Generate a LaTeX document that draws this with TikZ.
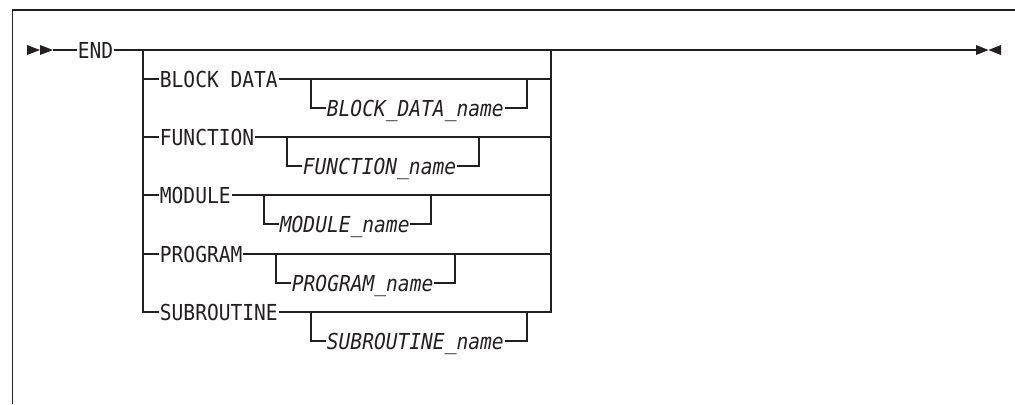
\documentclass[tikz,border=0pt]{standalone}
\usepackage{fontspec}
\setmainfont{DejaVu Sans Mono}[FakeStretch=0.89]
\definecolor{ink}{RGB}{35,31,32}
\begin{document}
\begin{tikzpicture}[x=1bp,y=-1bp,line width=1.2bp,draw=ink,
  kw/.style={font=\fontsize{22bp}{24bp}\selectfont,inner xsep=0.3bp,inner ysep=0pt,
    text height=17bp,text depth=1bp,anchor=west,text=ink},
  nm/.style={kw,font=\fontsize{22bp}{24bp}\selectfont\itshape},
  tipfill/.style={fill=ink,draw=none}]
\useasboundingbox (0,0) rectangle (1015,404);
% frame
\draw (12.5,404) -- (12.5,10) -- (1015,10);
% start and end marks
\fill[tipfill] (27,45) -- (40,50) -- (27,55) -- cycle;
\fill[tipfill] (40,45) -- (53,50) -- (40,55) -- cycle;
\fill[tipfill] (976,45) -- (988.5,50) -- (976,55) -- cycle;
\fill[tipfill] (1001,45) -- (988.5,50) -- (1001,55) -- cycle;
\coordinate (start) at (53,50);
\coordinate (fin) at (976,50);
\coordinate (L) at (143,50);
\coordinate (R) at (551,50);
\node[kw] (end) at (77,50) {END};
\draw (start) -- (end);
\draw (end) -- (fin);
% alternatives
\foreach \y/\lab/\xa/\xb/\nam [count=\i] in {
  79/BLOCK DATA/311/527/BLOCK\_DATA\_name,
  137/FUNCTION/287/479/FUNCTION\_name,
  195/MODULE/264/431/MODULE\_name,
  254/PROGRAM/276/455/PROGRAM\_name,
  312/SUBROUTINE/311/527/SUBROUTINE\_name}{
  \node[kw] (k\i) at (159,\y) {\lab};
  \node[nm] (n\i) at (\xa+15,\y+29) {\nam};
  \coordinate (a\i) at (\xa,\y);
  \coordinate (b\i) at (\xb,\y);
  \draw (143,\y) -- (k\i.west);
  \draw (k\i.east) -- (551,\y);
  \draw (a\i) |- (n\i.west);
  \draw (n\i.east) -| (b\i);
}
\draw (L) |- (k5.west);
\draw (R) |- (k5.east);
\end{tikzpicture}
\end{document}
